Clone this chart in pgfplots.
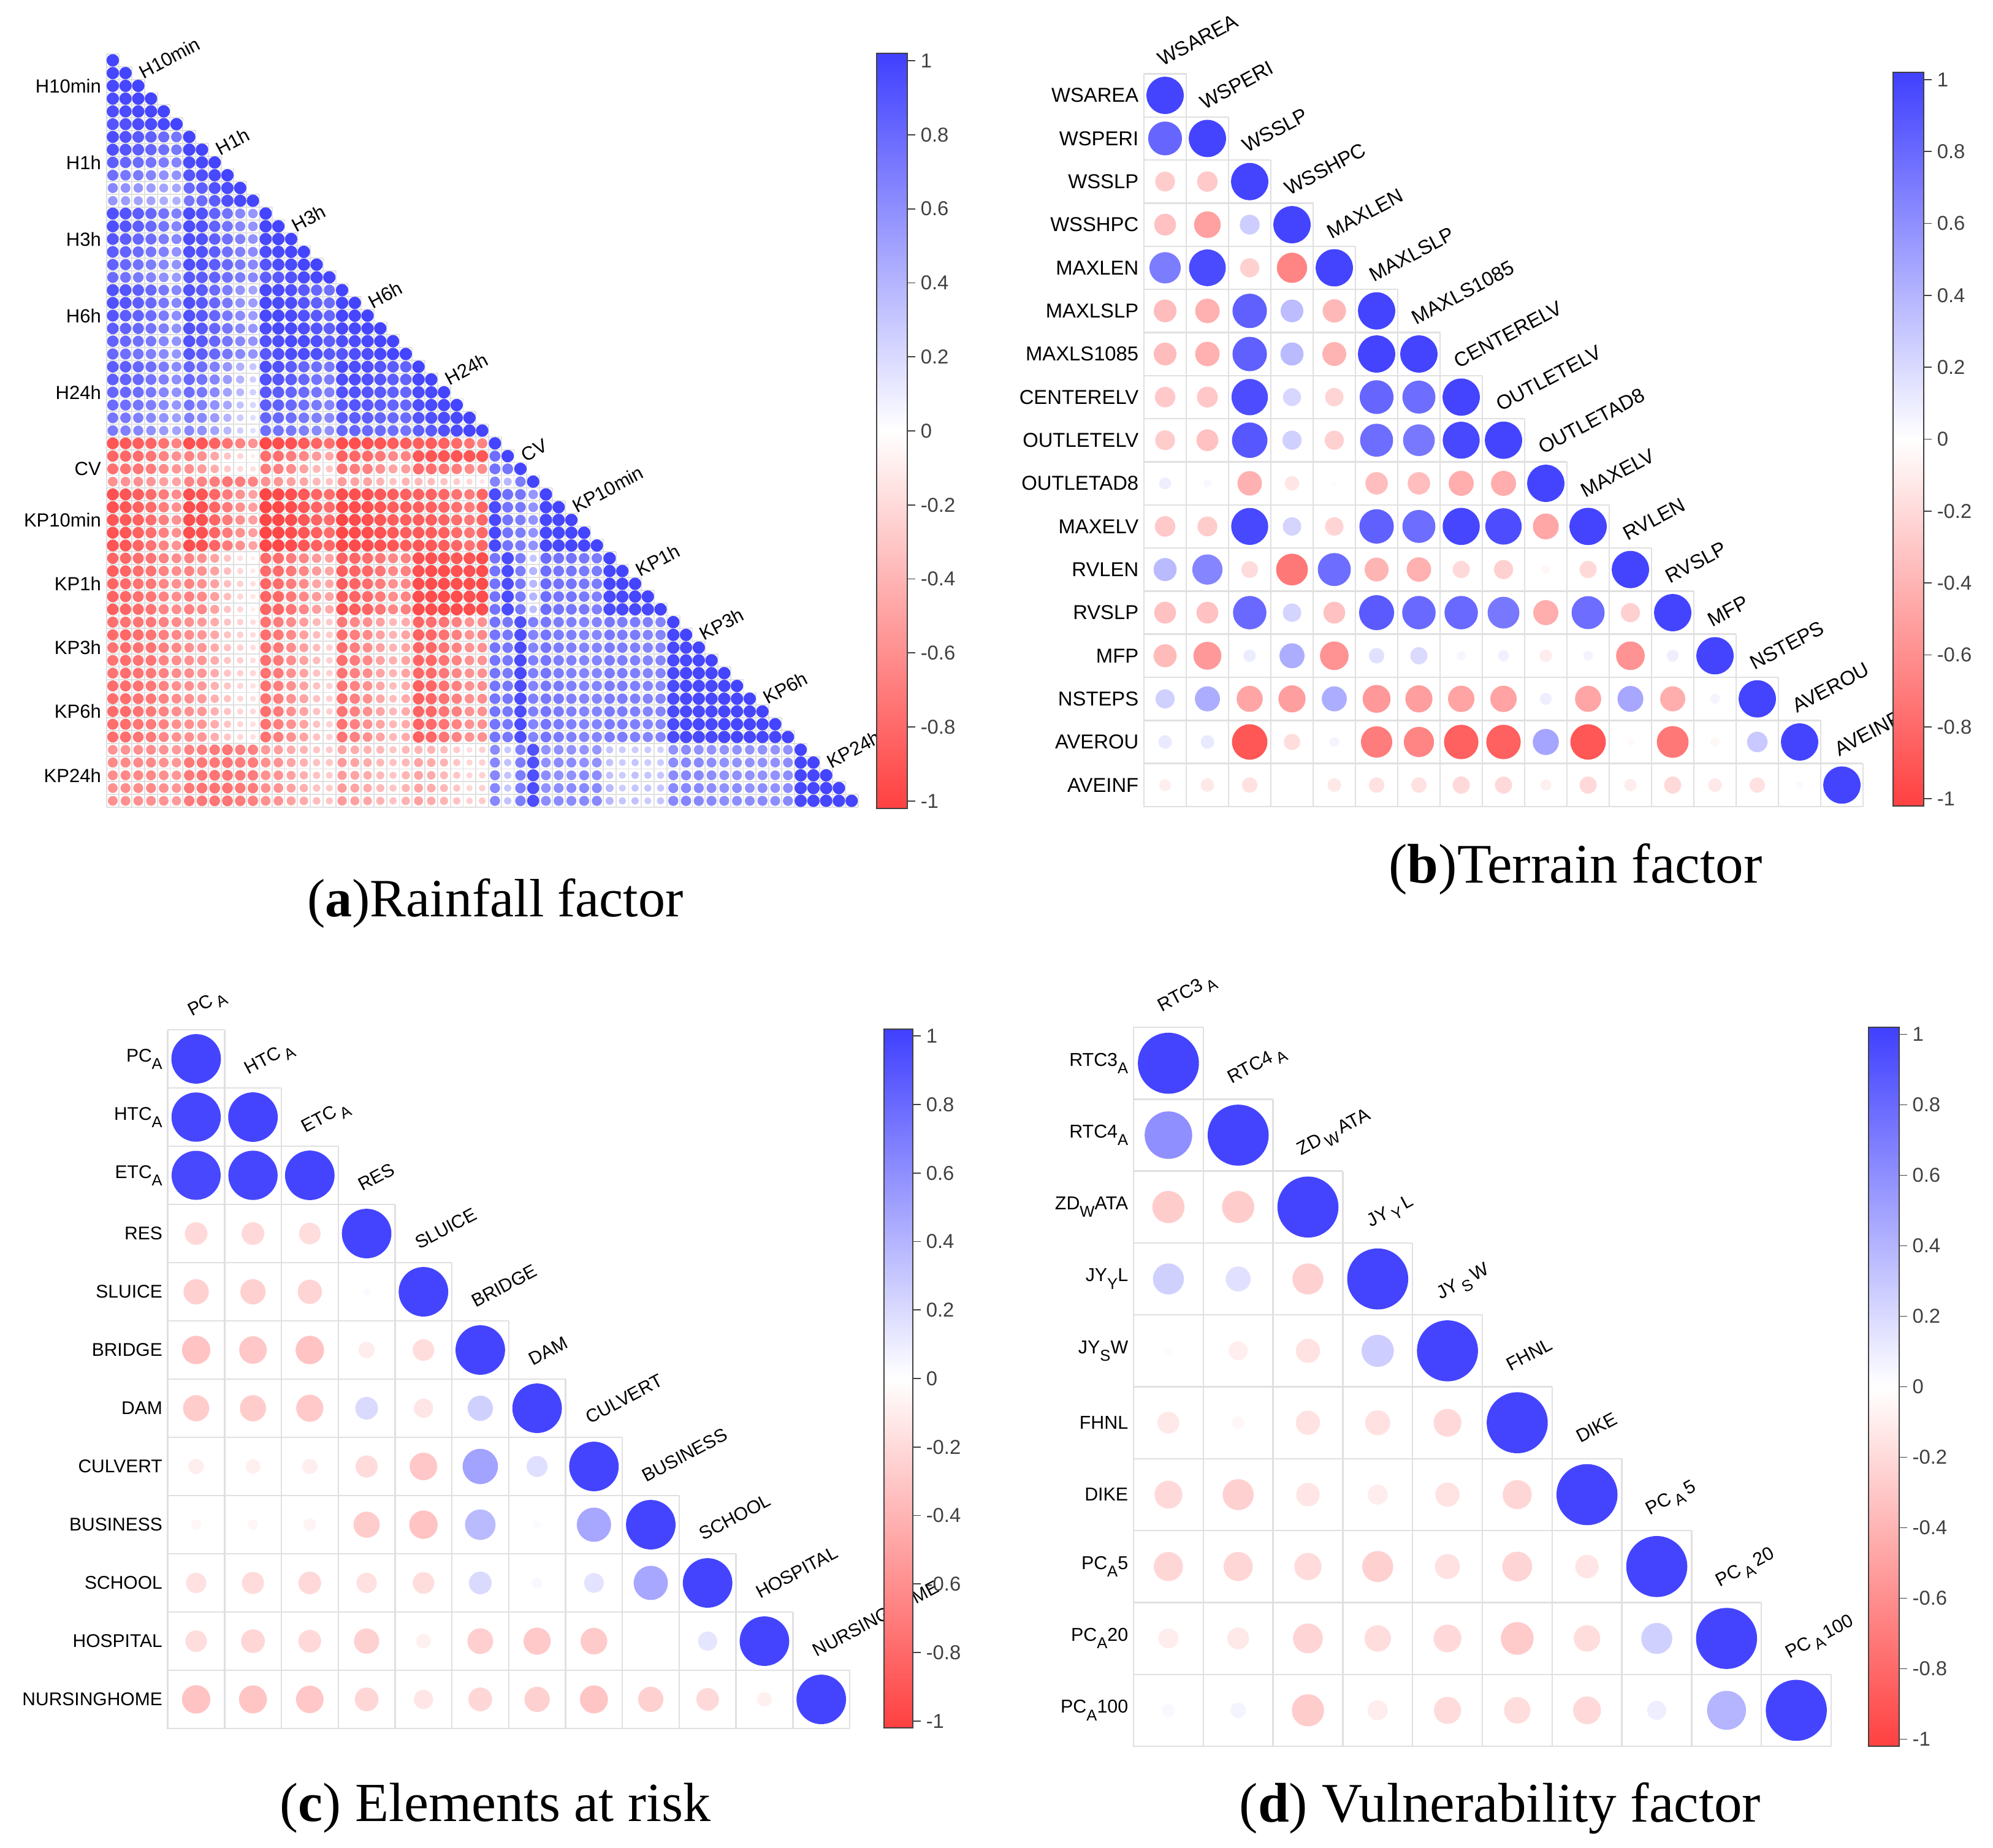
\documentclass[border=0pt]{standalone}
\usepackage{fontspec}
\usepackage{pgfplots}
\pgfplotsset{compat=1.18}
\setmainfont{Liberation Sans}
\newfontfamily\capf{Liberation Serif}

\definecolor{cellgrey}{RGB}{224,224,224}
\definecolor{bardark}{RGB}{64,64,64}

\pgfplotsset{
  colormap={corr}{rgb255=(255,64,64) rgb255=(255,255,255) rgb255=(64,64,255)},
  corrpanel/.style={
    scale only axis, clip=false, y dir=reverse,
    colormap name=corr, colorbar,
    point meta min=-1.02, point meta max=1.02,
    axis line style={draw=none}, major tick length=0pt,
    xtick=\empty, yticklabel style={inner sep=0pt, xshift=-2pt},
  },
  corrbar/.style={
    scale only axis, ytick pos=right, tick align=outside,
    major tick length=3.2pt, tick style={bardark, line width=0.45pt},
    axis line style={bardark, line width=0.5pt},
    ytick={-1,-0.8,-0.6,-0.4,-0.2,0,0.2,0.4,0.6,0.8,1},
    yticklabels={-1,-0.8,-0.6,-0.4,-0.2,0,0.2,0.4,0.6,0.8,1},
    yticklabel style={font=\fontsize{8.2}{10}\selectfont, text=bardark, inner sep=2pt},
  },
  corr/.style={
    scatter, only marks, mark=*,
    scatter/use mapped color={draw=mapped color, fill=mapped color},
    point meta=\thisrowno{0},
    visualization depends on={sqrt(abs(\thisrowno{0})) \as \rr},
    scatter/@pre marker code/.append style={/tikz/mark size=\rr*\maxr},
  },
}
\newcommand\R[2]{\addplot[corr] table[row sep=\\, header=false, x expr=\coordindex+1, y expr=#1]{#2};}
\newcommand\cells[2][0.6pt]{%
  \draw[cellgrey, line width=#1] (axis cs:0.5,0.5) -- (axis cs:0.5,#2+0.5) -- (axis cs:#2+0.5,#2+0.5);
  \pgfplotsinvokeforeach{1,...,#2}{%
    \draw[cellgrey, line width=#1] (axis cs:0.5,##1-0.5) -- (axis cs:##1+0.5,##1-0.5);
    \draw[cellgrey, line width=#1] (axis cs:##1+0.5,##1-0.5) -- (axis cs:##1+0.5,#2+0.5);
  }}
\newcommand\D[2]{\node[rotate=28, anchor=base west, inner sep=0pt, font=\lab] at (axis cs:#1+\dx,#1-\dy) {#2};}
\newcommand\sub[1]{\raisebox{-0.4em}{\fontsize{6.4}{7}\selectfont #1}}
\newcommand\tsub[1]{\,\raisebox{-0.3em}{\fontsize{6.4}{7}\selectfont #1}\,}

\begin{document}
\begin{tikzpicture}
\useasboundingbox (0,0) rectangle (812.75pt,-753.75pt);

% (a) rainfall
\def\maxr{2.33}\def\dx{0.4}\def\dy{0.5}\def\lab{\fontsize{7.75}{9}\selectfont}
\begin{axis}[corrpanel, at={(43.4pt,-22pt)}, anchor=north west, width=306.5pt, height=307.25pt,
  xmin=0.5, xmax=59.5, ymin=0.5, ymax=59.5,
  ytick={3,9,15,21,27,33,37,42,47,52,57},
  yticklabels={H10min,H1h,H3h,H6h,H24h,CV,KP10min,KP1h,KP3h,KP6h,KP24h},
  tick label style={font=\lab},
  colorbar style={corrbar, at={(parent axis.north west)}, anchor=north west,
    xshift=305.6pt, yshift=0.25pt, width=12.5pt, height=308pt},
]
\cells[0.45pt]{59}
\R{1}{1\\}
\R{2}{.99\\1\\}
\R{3}{.98\\.99\\1\\}
\R{4}{.97\\.98\\.99\\1\\}
\R{5}{.95\\.96\\.98\\.99\\1\\}
\R{6}{.91\\.93\\.95\\.97\\.98\\1\\}
\R{7}{.95\\.93\\.89\\.85\\.79\\.74\\1\\}
\R{8}{.94\\.91\\.87\\.83\\.77\\.72\\.99\\1\\}
\R{9}{.86\\.82\\.79\\.75\\.7\\.66\\.97\\.98\\1\\}
\R{10}{.77\\.72\\.7\\.66\\.59\\.58\\.91\\.94\\.98\\1\\}
\R{11}{.64\\.59\\.56\\.53\\.49\\.47\\.81\\.86\\.93\\.97\\1\\}
\R{12}{.56\\.53\\.5\\.49\\.45\\.42\\.74\\.79\\.87\\.94\\.98\\1\\}
\R{13}{.94\\.92\\.87\\.82\\.75\\.68\\.97\\.93\\.84\\.75\\.64\\.56\\1\\}
\R{14}{.94\\.91\\.86\\.81\\.74\\.66\\.95\\.93\\.84\\.75\\.64\\.58\\.99\\1\\}
\R{15}{.91\\.87\\.82\\.78\\.7\\.64\\.95\\.93\\.85\\.77\\.68\\.59\\.98\\.99\\1\\}
\R{16}{.87\\.84\\.79\\.74\\.68\\.59\\.94\\.93\\.86\\.77\\.68\\.62\\.95\\.98\\.99\\1\\}
\R{17}{.84\\.81\\.75\\.7\\.64\\.58\\.94\\.93\\.87\\.81\\.71\\.64\\.91\\.95\\.97\\.99\\1\\}
\R{18}{.79\\.75\\.71\\.66\\.59\\.54\\.89\\.87\\.84\\.77\\.7\\.64\\.86\\.89\\.93\\.97\\.98\\1\\}
\R{19}{.93\\.91\\.86\\.81\\.72\\.64\\.93\\.89\\.79\\.7\\.58\\.49\\.98\\.97\\.94\\.89\\.82\\.77\\1\\}
\R{20}{.93\\.91\\.86\\.81\\.72\\.64\\.94\\.89\\.81\\.72\\.59\\.53\\.98\\.97\\.95\\.91\\.85\\.79\\.99\\1\\}
\R{21}{.91\\.87\\.84\\.79\\.7\\.61\\.93\\.89\\.82\\.72\\.62\\.54\\.98\\.98\\.97\\.93\\.89\\.82\\.99\\.99\\1\\}
\R{22}{.87\\.84\\.81\\.75\\.68\\.59\\.93\\.89\\.82\\.74\\.63\\.56\\.96\\.98\\.97\\.95\\.91\\.86\\.98\\.98\\.99\\1\\}
\R{23}{.84\\.81\\.77\\.72\\.64\\.58\\.93\\.89\\.82\\.74\\.64\\.58\\.93\\.95\\.97\\.97\\.94\\.87\\.95\\.96\\.98\\.99\\1\\}
\R{24}{.81\\.77\\.74\\.68\\.62\\.56\\.9\\.86\\.81\\.72\\.64\\.58\\.89\\.93\\.95\\.95\\.94\\.89\\.91\\.94\\.95\\.98\\.99\\1\\}
\R{25}{.87\\.86\\.82\\.77\\.7\\.62\\.82\\.77\\.68\\.56\\.42\\.31\\.94\\.93\\.87\\.82\\.77\\.72\\.97\\.95\\.94\\.91\\.87\\.84\\1\\}
\R{26}{.86\\.84\\.81\\.75\\.68\\.61\\.81\\.75\\.66\\.53\\.4\\.25\\.93\\.91\\.87\\.82\\.75\\.7\\.95\\.95\\.94\\.91\\.87\\.84\\.99\\1\\}
\R{27}{.82\\.81\\.78\\.72\\.64\\.59\\.78\\.72\\.63\\.5\\.38\\.25\\.89\\.87\\.83\\.79\\.74\\.68\\.93\\.93\\.91\\.89\\.85\\.82\\.97\\.98\\1\\}
\R{28}{.79\\.77\\.74\\.69\\.63\\.56\\.74\\.68\\.59\\.47\\.33\\.22\\.86\\.85\\.81\\.77\\.71\\.66\\.89\\.91\\.89\\.87\\.83\\.82\\.94\\.97\\.98\\1\\}
\R{29}{.74\\.72\\.68\\.63\\.58\\.51\\.68\\.63\\.54\\.4\\.28\\.18\\.82\\.81\\.77\\.72\\.68\\.63\\.86\\.87\\.86\\.83\\.81\\.79\\.91\\.94\\.96\\.98\\1\\}
\R{30}{.71\\.68\\.64\\.59\\.54\\.49\\.64\\.59\\.5\\.38\\.25\\.17\\.77\\.75\\.72\\.68\\.63\\.59\\.81\\.82\\.81\\.79\\.77\\.75\\.86\\.89\\.93\\.96\\.99\\1\\}
\R{31}{-.91\\-.89\\-.86\\-.82\\-.75\\-.66\\-.94\\-.91\\-.84\\-.75\\-.66\\-.58\\-.97\\-.95\\-.93\\-.87\\-.82\\-.77\\-.95\\-.94\\-.93\\-.91\\-.87\\-.86\\-.86\\-.87\\-.84\\-.79\\-.74\\-.66\\1\\}
\R{32}{-.82\\-.81\\-.78\\-.74\\-.66\\-.59\\-.66\\-.59\\-.47\\-.32\\-.22\\-.1\\-.77\\-.77\\-.7\\-.64\\-.54\\-.47\\-.84\\-.81\\-.79\\-.72\\-.63\\-.66\\-.89\\-.91\\-.91\\-.91\\-.91\\-.91\\.77\\1\\}
\R{33}{-.77\\-.75\\-.74\\-.7\\-.62\\-.56\\-.59\\-.53\\-.44\\-.29\\-.2\\-.17\\-.7\\-.68\\-.62\\-.5\\-.38\\-.31\\-.74\\-.7\\-.68\\-.59\\-.49\\-.53\\-.79\\-.77\\-.74\\-.7\\-.62\\-.62\\.75\\.74\\1\\}
\R{34}{-.59\\-.58\\-.59\\-.56\\-.51\\-.49\\-.66\\-.66\\-.7\\-.74\\-.7\\-.66\\-.58\\-.56\\-.5\\-.47\\-.38\\-.33\\-.53\\-.49\\-.49\\-.4\\-.33\\-.4\\-.38\\-.36\\-.33\\-.28\\-.22\\-.14\\.66\\.38\\.7\\1\\}
\R{35}{-.93\\-.91\\-.86\\-.79\\-.7\\-.62\\-.94\\-.91\\-.81\\-.7\\-.58\\-.5\\-.99\\-.97\\-.94\\-.89\\-.82\\-.78\\-.95\\-.94\\-.93\\-.89\\-.86\\-.85\\-.85\\-.84\\-.81\\-.75\\-.7\\-.82\\.97\\.77\\.74\\.56\\1\\}
\R{36}{-.93\\-.91\\-.85\\-.79\\-.69\\-.6\\-.95\\-.93\\-.82\\-.71\\-.59\\-.52\\-.99\\-.98\\-.95\\-.9\\-.83\\-.79\\-.96\\-.95\\-.94\\-.9\\-.86\\-.86\\-.86\\-.85\\-.82\\-.77\\-.71\\-.83\\.97\\.75\\.72\\.59\\.99\\1\\}
\R{37}{-.91\\-.89\\-.85\\-.78\\-.69\\-.59\\-.95\\-.93\\-.82\\-.71\\-.59\\-.52\\-.99\\-.98\\-.95\\-.9\\-.83\\-.79\\-.98\\-.96\\-.94\\-.91\\-.87\\-.86\\-.87\\-.86\\-.83\\-.78\\-.72\\-.82\\.98\\.75\\.7\\.59\\.99\\.99\\1\\}
\R{38}{-.92\\-.9\\-.85\\-.78\\-.68\\-.59\\-.95\\-.93\\-.82\\-.71\\-.59\\-.52\\-.99\\-.98\\-.95\\-.9\\-.85\\-.79\\-.98\\-.96\\-.95\\-.93\\-.89\\-.86\\-.89\\-.87\\-.85\\-.79\\-.74\\-.81\\.98\\.75\\.7\\.59\\.98\\.99\\.99\\1\\}
\R{39}{-.91\\-.9\\-.83\\-.75\\-.66\\-.58\\-.95\\-.93\\-.82\\-.71\\-.59\\-.49\\-.98\\-.98\\-.95\\-.9\\-.85\\-.81\\-.98\\-.96\\-.95\\-.93\\-.9\\-.87\\-.9\\-.89\\-.86\\-.81\\-.75\\-.81\\.98\\.75\\.7\\.59\\.98\\.98\\.99\\.99\\1\\}
\R{40}{-.82\\-.81\\-.78\\-.74\\-.66\\-.61\\-.66\\-.59\\-.49\\-.32\\-.17\\-.1\\-.79\\-.78\\-.7\\-.64\\-.54\\-.49\\-.84\\-.81\\-.78\\-.72\\-.63\\-.66\\-.93\\-.93\\-.91\\-.89\\-.91\\-.95\\.74\\.97\\.7\\.32\\.79\\.75\\.75\\.72\\.7\\1\\}
\R{41}{-.86\\-.82\\-.78\\-.75\\-.66\\-.61\\-.66\\-.59\\-.5\\-.35\\-.22\\-.12\\-.79\\-.79\\-.72\\-.64\\-.54\\-.49\\-.86\\-.83\\-.81\\-.74\\-.63\\-.68\\-.94\\-.95\\-.95\\-.93\\-.93\\-.95\\.75\\.97\\.7\\.4\\.78\\.74\\.74\\.71\\.7\\.99\\1\\}
\R{42}{-.82\\-.79\\-.75\\-.72\\-.64\\-.59\\-.66\\-.59\\-.5\\-.35\\-.25\\-.17\\-.81\\-.78\\-.7\\-.62\\-.49\\-.47\\-.86\\-.83\\-.78\\-.7\\-.59\\-.64\\-.95\\-.95\\-.95\\-.94\\-.95\\-.96\\.75\\.95\\.72\\.38\\.79\\.75\\.74\\.72\\.7\\.99\\.99\\1\\}
\R{43}{-.84\\-.81\\-.77\\-.74\\-.66\\-.61\\-.68\\-.63\\-.52\\-.36\\-.22\\-.14\\-.82\\-.81\\-.72\\-.63\\-.54\\-.49\\-.86\\-.83\\-.79\\-.71\\-.61\\-.66\\-.95\\-.95\\-.95\\-.95\\-.94\\-.95\\.75\\.97\\.71\\.4\\.78\\.74\\.74\\.71\\.68\\.98\\.98\\.99\\1\\}
\R{44}{-.86\\-.83\\-.79\\-.75\\-.66\\-.61\\-.68\\-.63\\-.5\\-.32\\-.22\\-.1\\-.83\\-.82\\-.74\\-.64\\-.52\\-.45\\-.9\\-.87\\-.83\\-.75\\-.64\\-.68\\-.96\\-.95\\-.96\\-.96\\-.95\\-.95\\.75\\.97\\.72\\.36\\.79\\.75\\.74\\.72\\.68\\.97\\.98\\.98\\.98\\1\\}
\R{45}{-.77\\-.75\\-.74\\-.72\\-.66\\-.62\\-.59\\-.54\\-.45\\-.32\\-.24\\-.18\\-.75\\-.7\\-.62\\-.52\\-.38\\-.28\\-.72\\-.64\\-.59\\-.5\\-.38\\-.45\\-.82\\-.77\\-.74\\-.68\\-.58\\-.59\\.75\\.72\\.94\\.68\\.72\\.7\\.68\\.66\\.66\\.72\\.7\\.7\\.68\\.66\\1\\}
\R{46}{-.79\\-.81\\-.78\\-.74\\-.68\\-.63\\-.61\\-.56\\-.47\\-.32\\-.25\\-.18\\-.77\\-.72\\-.63\\-.5\\-.36\\-.28\\-.77\\-.69\\-.63\\-.5\\-.4\\-.49\\-.85\\-.81\\-.75\\-.68\\-.58\\-.63\\.74\\.72\\.95\\.66\\.74\\.7\\.68\\.66\\.64\\.72\\.7\\.7\\.66\\.66\\.99\\1\\}
\R{47}{-.75\\-.78\\-.75\\-.74\\-.68\\-.63\\-.59\\-.56\\-.45\\-.33\\-.25\\-.18\\-.77\\-.72\\-.61\\-.5\\-.36\\-.25\\-.77\\-.69\\-.61\\-.5\\-.4\\-.49\\-.82\\-.81\\-.74\\-.66\\-.58\\-.59\\.74\\.72\\.96\\.66\\.74\\.7\\.68\\.66\\.66\\.71\\.7\\.68\\.66\\.66\\.98\\.98\\1\\}
\R{48}{-.75\\-.78\\-.75\\-.74\\-.66\\-.61\\-.59\\-.56\\-.45\\-.31\\-.25\\-.18\\-.77\\-.72\\-.61\\-.5\\-.36\\-.25\\-.78\\-.71\\-.63\\-.5\\-.42\\-.49\\-.82\\-.81\\-.74\\-.66\\-.58\\-.58\\.74\\.72\\.98\\.68\\.74\\.7\\.68\\.66\\.66\\.71\\.7\\.68\\.66\\.66\\.98\\.98\\.99\\1\\}
\R{49}{-.75\\-.78\\-.75\\-.72\\-.66\\-.61\\-.61\\-.56\\-.45\\-.32\\-.25\\-.22\\-.75\\-.71\\-.59\\-.49\\-.33\\-.25\\-.75\\-.68\\-.61\\-.49\\-.4\\-.49\\-.81\\-.79\\-.72\\-.64\\-.58\\-.59\\.74\\.71\\.98\\.68\\.74\\.7\\.68\\.66\\.66\\.71\\.7\\.68\\.66\\.66\\.98\\.99\\.99\\.99\\1\\}
\R{50}{-.78\\-.78\\-.75\\-.72\\-.66\\-.59\\-.59\\-.54\\-.42\\-.31\\-.22\\-.17\\-.75\\-.69\\-.59\\-.49\\-.33\\-.25\\-.74\\-.66\\-.59\\-.47\\-.36\\-.45\\-.85\\-.81\\-.75\\-.68\\-.58\\-.61\\.74\\.72\\.95\\.66\\.72\\.71\\.68\\.66\\.66\\.7\\.7\\.68\\.66\\.64\\.97\\.98\\.98\\.98\\.99\\1\\}
\R{51}{-.78\\-.78\\-.75\\-.72\\-.66\\-.61\\-.59\\-.54\\-.42\\-.32\\-.22\\-.17\\-.75\\-.69\\-.59\\-.49\\-.33\\-.25\\-.75\\-.68\\-.59\\-.47\\-.36\\-.45\\-.85\\-.81\\-.75\\-.68\\-.58\\-.61\\.74\\.72\\.96\\.68\\.72\\.71\\.68\\.66\\.66\\.7\\.7\\.68\\.66\\.66\\.97\\.98\\.98\\.98\\.99\\.99\\1\\}
\R{52}{-.79\\-.79\\-.75\\-.72\\-.66\\-.61\\-.59\\-.56\\-.42\\-.32\\-.22\\-.2\\-.77\\-.71\\-.59\\-.49\\-.33\\-.25\\-.75\\-.68\\-.59\\-.49\\-.38\\-.45\\-.83\\-.81\\-.74\\-.68\\-.58\\-.59\\.74\\.72\\.96\\.68\\.74\\.71\\.68\\.66\\.66\\.71\\.7\\.68\\.66\\.66\\.97\\.98\\.98\\.98\\.99\\.99\\.99\\1\\}
\R{53}{-.78\\-.78\\-.74\\-.71\\-.66\\-.59\\-.59\\-.56\\-.45\\-.32\\-.22\\-.17\\-.75\\-.69\\-.59\\-.49\\-.33\\-.25\\-.75\\-.68\\-.59\\-.49\\-.38\\-.45\\-.83\\-.79\\-.74\\-.66\\-.58\\-.59\\.74\\.72\\.96\\.66\\.74\\.71\\.68\\.66\\.66\\.71\\.7\\.68\\.66\\.66\\.97\\.98\\.98\\.98\\.99\\.99\\.99\\.99\\1\\}
\R{54}{-.78\\-.78\\-.74\\-.71\\-.64\\-.59\\-.59\\-.56\\-.44\\-.31\\-.22\\-.17\\-.75\\-.69\\-.59\\-.49\\-.33\\-.25\\-.75\\-.68\\-.59\\-.49\\-.38\\-.45\\-.85\\-.81\\-.74\\-.66\\-.58\\-.59\\.74\\.72\\.95\\.66\\.74\\.71\\.68\\.66\\.66\\.7\\.7\\.68\\.66\\.66\\.97\\.98\\.98\\.98\\.99\\.99\\.99\\.99\\.99\\1\\}
\R{55}{-.58\\-.58\\-.59\\-.61\\-.58\\-.54\\-.66\\-.68\\-.71\\-.74\\-.68\\-.68\\-.54\\-.52\\-.45\\-.4\\-.31\\-.28\\-.49\\-.45\\-.4\\-.38\\-.31\\-.38\\-.4\\-.4\\-.36\\-.28\\-.18\\-.25\\.62\\.29\\.68\\.93\\.58\\.59\\.59\\.58\\.56\\.31\\.28\\.28\\.28\\.25\\.59\\.62\\.59\\.59\\.58\\.59\\.58\\.59\\.58\\.59\\1\\}
\R{56}{-.63\\-.63\\-.63\\-.63\\-.59\\-.56\\-.72\\-.72\\-.72\\-.74\\-.7\\-.7\\-.59\\-.58\\-.49\\-.42\\-.33\\-.31\\-.54\\-.49\\-.45\\-.38\\-.33\\-.38\\-.49\\-.45\\-.4\\-.31\\-.22\\-.25\\.64\\.33\\.7\\.94\\.59\\.62\\.62\\.59\\.59\\.33\\.28\\.31\\.28\\.28\\.62\\.64\\.63\\.61\\.59\\.59\\.59\\.59\\.59\\.61\\.99\\1\\}
\R{57}{-.61\\-.63\\-.63\\-.63\\-.59\\-.56\\-.72\\-.74\\-.74\\-.74\\-.71\\-.7\\-.59\\-.58\\-.5\\-.42\\-.33\\-.28\\-.54\\-.49\\-.45\\-.38\\-.31\\-.4\\-.49\\-.45\\-.38\\-.31\\-.22\\-.25\\.64\\.32\\.7\\.94\\.61\\.59\\.59\\.63\\.61\\.33\\.28\\.33\\.31\\.31\\.62\\.64\\.63\\.61\\.59\\.59\\.59\\.59\\.59\\.61\\.99\\.99\\1\\}
\R{58}{-.59\\-.61\\-.61\\-.63\\-.59\\-.56\\-.72\\-.74\\-.75\\-.75\\-.72\\-.7\\-.59\\-.58\\-.5\\-.42\\-.33\\-.28\\-.54\\-.49\\-.45\\-.38\\-.31\\-.4\\-.49\\-.45\\-.38\\-.31\\-.22\\-.25\\.64\\.31\\.7\\.95\\.59\\.61\\.62\\.63\\.63\\.38\\.28\\.31\\.31\\.31\\.63\\.64\\.63\\.61\\.59\\.61\\.59\\.61\\.59\\.61\\.99\\.99\\.99\\1\\}
\R{59}{-.59\\-.59\\-.59\\-.59\\-.58\\-.54\\-.71\\-.72\\-.74\\-.74\\-.7\\-.68\\-.59\\-.58\\-.5\\-.45\\-.36\\-.31\\-.54\\-.5\\-.47\\-.4\\-.33\\-.42\\-.5\\-.45\\-.4\\-.33\\-.25\\-.28\\.64\\.33\\.7\\.95\\.61\\.62\\.62\\.63\\.64\\.38\\.31\\.33\\.28\\.31\\.64\\.66\\.64\\.63\\.61\\.61\\.61\\.63\\.61\\.63\\.98\\.99\\.99\\.99\\1\\}
\D{3}{H10min}\D{9}{H1h}\D{15}{H3h}\D{21}{H6h}\D{27}{H24h}\D{33}{CV}\D{37}{KP10min}\D{42}{KP1h}\D{47}{KP3h}\D{52}{KP6h}\D{57}{KP24h}
\end{axis}

% (b) terrain
\def\maxr{7.4}\def\dx{-0.07}\def\dy{0.66}\def\lab{\fontsize{8.2}{10}\selectfont}
\begin{axis}[corrpanel, at={(466.5pt,-30.1pt)}, anchor=north west, width=293.25pt, height=298.9pt,
  xmin=0.5, xmax=17.5, ymin=0.5, ymax=17.5,
  ytick={1,...,17},
  yticklabels={WSAREA,WSPERI,WSSLP,WSSHPC,MAXLEN,MAXLSLP,MAXLS1085,CENTERELV,OUTLETELV,OUTLETAD8,MAXELV,RVLEN,RVSLP,MFP,NSTEPS,AVEROU,AVEINF},
  tick label style={font=\lab},
  colorbar style={corrbar, at={(parent axis.north west)}, anchor=north west,
    xshift=297pt, yshift=0.6pt, width=12.5pt, height=299.25pt},
]
\cells{17}
\R{1}{1\\}
\R{2}{.82\\1\\}
\R{3}{-.27\\-.29\\1\\}
\R{4}{-.33\\-.5\\.27\\1\\}
\R{5}{.7\\.97\\-.25\\-.65\\1\\}
\R{6}{-.36\\-.42\\.85\\.36\\-.38\\1\\}
\R{7}{-.36\\-.42\\.85\\.37\\-.4\\1\\1\\}
\R{8}{-.29\\-.3\\.95\\.22\\-.23\\.82\\.78\\1\\}
\R{9}{-.27\\-.33\\.9\\.25\\-.25\\.78\\.72\\.98\\1\\}
\R{10}{.09\\.04\\-.42\\-.14\\-.02\\-.35\\-.35\\-.44\\-.44\\1\\}
\R{11}{-.29\\-.27\\.98\\.23\\-.23\\.85\\.78\\.99\\.95\\-.47\\1\\}
\R{12}{.37\\.65\\-.19\\-.72\\.78\\-.4\\-.42\\-.2\\-.25\\-.05\\-.2\\1\\}
\R{13}{-.33\\-.33\\.8\\.23\\-.33\\.88\\.8\\.8\\.72\\-.44\\.78\\-.25\\1\\}
\R{14}{-.37\\-.55\\.1\\.44\\-.58\\.16\\.2\\.05\\.08\\-.1\\.06\\-.58\\.09\\1\\}
\R{15}{.25\\.44\\-.48\\-.52\\.44\\-.55\\-.52\\-.49\\-.49\\.09\\-.48\\.47\\-.44\\.06\\1\\}
\R{16}{.12\\.12\\-.9\\-.18\\.06\\-.7\\-.65\\-.85\\-.85\\.48\\-.9\\-.03\\-.72\\-.05\\.29\\1\\}
\R{17}{-.09\\-.12\\-.16\\0\\-.12\\-.16\\-.16\\-.2\\-.2\\-.08\\-.2\\-.1\\-.2\\-.12\\-.16\\.03\\1\\}
\D{1}{WSAREA}\D{2}{WSPERI}\D{3}{WSSLP}\D{4}{WSSHPC}\D{5}{MAXLEN}\D{6}{MAXLSLP}\D{7}{MAXLS1085}\D{8}{CENTERELV}\D{9}{OUTLETELV}\D{10}{OUTLETAD8}\D{11}{MAXELV}\D{12}{RVLEN}\D{13}{RVSLP}\D{14}{MFP}\D{15}{NSTEPS}\D{16}{AVEROU}\D{17}{AVEINF}
\end{axis}

% (c) elements at risk
\def\maxr{9.9}\def\dx{-0.08}\def\dy{0.72}\def\lab{\fontsize{7.5}{9}\selectfont}
\begin{axis}[corrpanel, at={(68.4pt,-420pt)}, anchor=north west, width=278.1pt, height=285pt,
  xmin=0.5, xmax=12.5, ymin=0.5, ymax=12.5,
  ytick={1,...,12},
  yticklabels={PC\sub{A},HTC\sub{A},ETC\sub{A},RES,SLUICE,BRIDGE,DAM,CULVERT,BUSINESS,SCHOOL,HOSPITAL,NURSINGHOME},
  tick label style={font=\lab},
  colorbar style={corrbar, at={(parent axis.north west)}, anchor=north west,
    xshift=283.6pt, yshift=0.25pt, width=11.75pt, height=285pt},
]
\cells{12}
\R{1}{1\\}
\R{2}{.99\\1\\}
\R{3}{.98\\.99\\1\\}
\R{4}{-.2\\-.2\\-.18\\1\\}
\R{5}{-.25\\-.25\\-.23\\.02\\1\\}
\R{6}{-.32\\-.3\\-.32\\-.1\\-.18\\1\\}
\R{7}{-.27\\-.27\\-.29\\.2\\-.14\\.25\\1\\}
\R{8}{-.09\\-.08\\-.09\\-.19\\-.3\\.5\\.17\\1\\}
\R{9}{-.04\\-.04\\-.06\\-.27\\-.32\\.37\\.02\\.47\\1\\}
\R{10}{-.16\\-.19\\-.2\\-.16\\-.18\\.2\\.04\\.15\\.47\\1\\}
\R{11}{-.18\\-.22\\-.2\\-.25\\-.08\\-.26\\-.29\\-.28\\0\\.14\\1\\}
\R{12}{-.32\\-.31\\-.3\\-.22\\-.14\\-.22\\-.25\\-.31\\-.25\\-.2\\-.08\\1\\}
\D{1}{PC\tsub{A}}\D{2}{HTC\tsub{A}}\D{3}{ETC\tsub{A}}\D{4}{RES}\D{5}{SLUICE}\D{6}{BRIDGE}\D{7}{DAM}\D{8}{CULVERT}\D{9}{BUSINESS}\D{10}{SCHOOL}\D{11}{HOSPITAL}\D{12}{NURSINGHOME}
\end{axis}

% (d) vulnerability
\def\maxr{12.25}\def\dx{-0.1}\def\dy{0.71}\def\lab{\fontsize{7.6}{9}\selectfont}
\begin{axis}[corrpanel, at={(462.25pt,-419pt)}, anchor=north west, width=284.5pt, height=293.25pt,
  xmin=0.5, xmax=10.5, ymin=0.5, ymax=10.5,
  ytick={1,...,10},
  yticklabels={RTC3\sub{A},RTC4\sub{A},ZD\sub{W}ATA,JY\sub{Y}L,JY\sub{S}W,FHNL,DIKE,PC\sub{A}5,PC\sub{A}20,PC\sub{A}100},
  tick label style={font=\lab},
  colorbar style={corrbar, at={(parent axis.north west)}, anchor=north west,
    xshift=291.2pt, yshift=0pt, width=12.5pt, height=293.25pt},
]
\cells{10}
\R{1}{1\\}
\R{2}{.6\\1\\}
\R{3}{-.27\\-.27\\1\\}
\R{4}{.25\\.16\\-.25\\1\\}
\R{5}{-.02\\-.09\\-.15\\.27\\1\\}
\R{6}{-.12\\-.04\\-.15\\-.16\\-.2\\1\\}
\R{7}{-.2\\-.25\\-.14\\-.1\\-.15\\-.22\\1\\}
\R{8}{-.22\\-.22\\-.19\\-.25\\-.16\\-.23\\-.14\\1\\}
\R{9}{-.1\\-.12\\-.23\\-.18\\-.2\\-.28\\-.18\\.25\\1\\}
\R{10}{.04\\.06\\-.27\\-.1\\-.19\\-.18\\-.2\\.09\\.4\\1\\}
\D{1}{RTC3\tsub{A}}\D{2}{RTC4\tsub{A}}\D{3}{ZD\tsub{W}ATA}\D{4}{JY\tsub{Y}L}\D{5}{JY\tsub{S}W}\D{6}{FHNL}\D{7}{DIKE}\D{8}{PC\tsub{A}5}\D{9}{PC\tsub{A}20}\D{10}{PC\tsub{A}100}
\end{axis}

\node[font=\capf\fontsize{22}{24}\selectfont] at (202pt,-368.5pt) {(\textbf{a})Rainfall factor};
\node[font=\capf\fontsize{22.8}{24}\selectfont] at (642.5pt,-354.5pt) {(\textbf{b})Terrain factor};
\node[font=\capf\fontsize{22.5}{24}\selectfont] at (202pt,-737.5pt) {(\textbf{c}) Elements at risk};
\node[font=\capf\fontsize{22.8}{24}\selectfont] at (611.75pt,-737.5pt) {(\textbf{d}) Vulnerability factor};
\end{tikzpicture}
\end{document}
